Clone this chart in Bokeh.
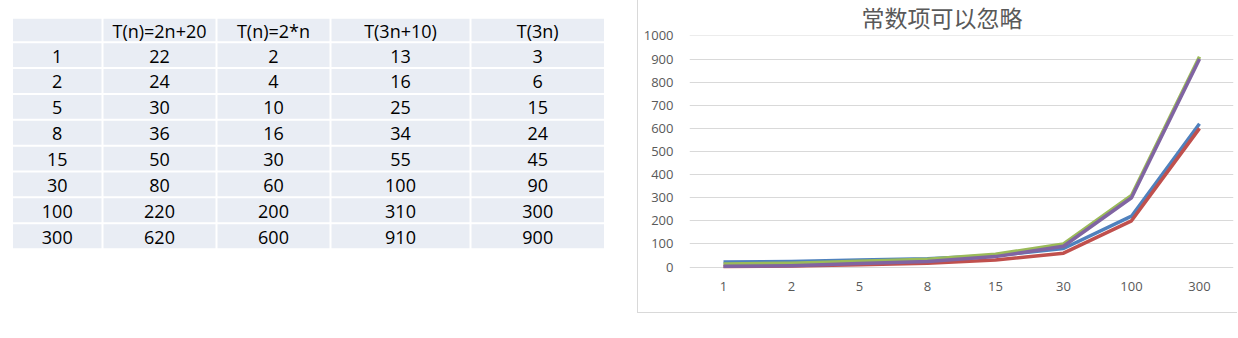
import numpy as np
from bokeh.plotting import figure
from bokeh.layouts import row
from bokeh.models import Range1d, FactorRange, FixedTicker
from bokeh.core.properties import value
from bokeh.embed import file_html
from bokeh.resources import INLINE

# ---------------- data ----------------
n_vals = ["1", "2", "5", "8", "15", "30", "100", "300"]
headers = ["T(n)=2n+20", "T(n)=2*n", "T(3n+10)", "T(3n)"]
t_2n_20 = [22, 24, 30, 36, 50, 80, 220, 620]
t_2n = [2, 4, 10, 16, 30, 60, 200, 600]
t_3n_10 = [13, 16, 25, 34, 55, 100, 310, 910]
t_3n = [3, 6, 15, 24, 45, 90, 300, 900]
series = [t_2n_20, t_2n, t_3n_10, t_3n]
colors = ["#4F81BD", "#C0504D", "#9BBB59", "#8064A2"]
title_text = "常数项可以忽略"
y_ticks = [0, 100, 200, 300, 400, 500, 600, 700, 800, 900, 1000]

# ---------------- table (left) ----------------
TW, TH = 637, 338
t = figure(width=TW, height=TH, x_range=Range1d(0, TW), y_range=Range1d(TH, 0),
           output_backend="svg", toolbar_location=None, min_border=0,
           title=None, x_axis_location=None, y_axis_location=None)
t.frame_align = False
t.grid.visible = False
t.outline_line_color = None
t.background_fill_color = "white"
t.border_fill_color = "white"

col_edges = [12.5, 102, 216, 330, 470, 603.5]
row_edges = [18.3] + list(np.linspace(41.7, 222.7, 8)) + [247.7]
gap = 1.0

table_rows = [[""] + headers]
for i, n in enumerate(n_vals):
    table_rows.append([n] + [str(s[i]) for s in series])

L, R, T, B, X, Y, TXT = [], [], [], [], [], [], []
for r in range(len(table_rows)):
    top = row_edges[r] + (gap if r > 0 else 0)
    bot = row_edges[r + 1] - (gap if r < len(table_rows) - 1 else 0)
    for c in range(len(col_edges) - 1):
        left = col_edges[c] + (gap if c > 0 else 0)
        right = col_edges[c + 1] - (gap if c < len(col_edges) - 2 else 0)
        L.append(left); R.append(right); T.append(top); B.append(bot)
        X.append((left + right) / 2); Y.append((top + bot) / 2 + 1)
        TXT.append(table_rows[r][c])

t.quad(left=L, right=R, top=T, bottom=B, fill_color="#E9EDF4", line_color=None)
t.text(x=X, y=Y, text=TXT, text_align="center", text_baseline="middle",
       text_font=value("Open Sans"), text_font_size="18px", text_color="#000000")

# ---------------- chart (right) ----------------
CW, CH = 600, 313
frame_top, frame_bot = 34, 270
px_per_unit = 0.232
y_end = 1000 + 0.5 / px_per_unit
y_start = y_end - (frame_bot - frame_top) / px_per_unit
p = figure(width=CW, height=CH, x_range=FactorRange(*n_vals),
           y_range=Range1d(y_start, y_end),
           output_backend="svg", toolbar_location=None,
           min_border_left=51, min_border_right=5, min_border_top=frame_top,
           min_border_bottom=CH - frame_bot)
p.frame_align = False
p.styles = {"border-left": "1px solid #D9D9D9", "border-bottom": "1px solid #D9D9D9"}
p.outline_line_color = None
p.background_fill_color = "white"
p.border_fill_color = "white"

p.title.text = title_text
p.title.align = "left"
p.title.offset = 172
p.title.standoff = 7
p.title.vertical_align = "bottom"
p.title.text_font = "DejaVu Sans, Noto Sans CJK SC"
p.title.text_font_size = "23px"
p.title.text_font_style = "normal"
p.title.text_color = "#595959"

p.xgrid.visible = False
p.ygrid.grid_line_color = "#D9D9D9"
p.ygrid.grid_line_width = 1
p.yaxis.ticker = FixedTicker(ticks=y_ticks)
for ax in (p.xaxis[0], p.yaxis[0]):
    ax.axis_line_color = None
    ax.major_tick_line_color = None
    ax.minor_tick_line_color = None
    ax.major_label_text_font = "Open Sans"
    ax.major_label_text_font_size = "13px"
    ax.major_label_text_color = "#595959"
p.yaxis.major_label_standoff = 10
p.xaxis.major_label_standoff = 5

for s, c in zip(series, colors):
    p.line(x=n_vals, y=s, line_color=c, line_width=3.5, line_join="round")

layout = row(t, p)
open("out.html", "w").write(file_html(layout, INLINE))
